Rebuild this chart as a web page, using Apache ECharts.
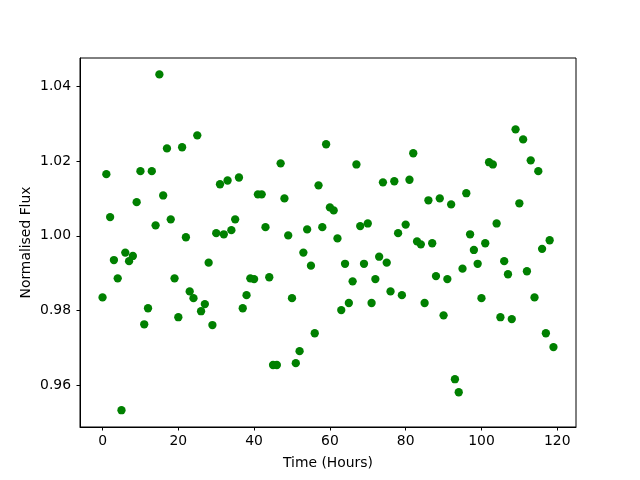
<!DOCTYPE html>
<html><head><meta charset="utf-8">
<script src="https://cdn.jsdelivr.net/npm/echarts@6/dist/echarts.min.js"></script>
<style>html,body{margin:0;padding:0;background:#fff}#c{width:640px;height:480px}</style>
</head><body><div id="c"></div>
<script>
const timeHours = [];
for (let i = 0; i < 120; i++) timeHours.push(i);
const flux = [
0.9835,1.0165,1.005,0.9935,0.9886,0.9533,0.9955,0.9932,0.9946,1.009,
1.0173,0.9763,0.9806,1.0173,1.0028,1.0432,1.0108,1.0234,1.0044,0.9886,
0.9782,1.0237,0.9996,0.9851,0.9833,1.0269,0.9798,0.9817,0.9928,0.9761,
1.0007,1.0138,1.0004,1.0148,1.0015,1.0044,1.0156,0.9806,0.9841,0.9886,
0.9884,1.0111,1.0111,1.0023,0.9889,0.9654,0.9654,1.0194,1.01,1.0001,
0.9833,0.9659,0.9691,0.9955,1.0017,0.992,0.9739,1.0135,1.0023,1.0245,
1.0076,1.0068,0.9993,0.9801,0.9925,0.982,0.9878,1.0191,1.0026,0.9925,
1.0033,0.982,0.9884,0.9944,1.0143,0.9928,0.9851,1.0146,1.0007,0.9841,
1.003,1.015,1.0221,0.9985,0.9977,0.982,1.0095,0.998,0.9892,1.01,
0.9787,0.9884,1.0084,0.9616,0.9581,0.9912,1.0114,1.0004,0.9962,0.9925,
0.9833,0.998,1.0197,1.0191,1.0033,0.9782,0.9932,0.9897,0.9777,1.0285,
1.0087,1.0258,0.9905,1.0202,0.9835,1.0173,0.9965,0.9739,0.9988,0.9702
];
const xTicks = [0,20,40,60,80,100,120];
const yTicks = [0.96,0.98,1.00,1.02,1.04];

const points = timeHours.map((t,i)=>[t, flux[i]]);
const font = 'DejaVu Sans';
const chart = echarts.init(document.getElementById('c'), null, {renderer:'canvas'});
chart.setOption({
  animation:false,
  backgroundColor:'#fff',
  grid:{left:80, top:58, width:496, height:369, show:true, borderColor:'#000', borderWidth:1, backgroundColor:'transparent'},
  xAxis:{type:'value', min:-5.95, max:124.95,
    name:'Time (Hours)', nameLocation:'middle', nameGap:29, nameMoveOverlap:false,
    nameTextStyle:{color:'#000', fontFamily:font, fontSize:13.9},
    axisLine:{show:true, onZero:false, lineStyle:{color:'#000', width:1}},
    axisTick:{show:true, inside:false, length:3.5, lineStyle:{color:'#000'}, customValues:xTicks},
    axisLabel:{color:'#000', fontFamily:font, fontSize:13.9, margin:7, customValues:xTicks, formatter:v=>String(v)},
    splitLine:{show:false}},
  yAxis:{type:'value', min:0.9488, max:1.0476,
    name:'Normalised Flux', nameLocation:'middle', nameGap:47, nameRotate:90, nameMoveOverlap:false,
    nameTextStyle:{color:'#000', fontFamily:font, fontSize:13.9},
    axisLine:{show:true, onZero:false, lineStyle:{color:'#000', width:1}},
    axisTick:{show:true, inside:false, length:3.5, lineStyle:{color:'#000'}, customValues:yTicks},
    axisLabel:{color:'#000', fontFamily:font, fontSize:13.9, margin:9, customValues:yTicks, formatter:v=>v.toFixed(2)},
    splitLine:{show:false}},
  series:[{type:'scatter', data:points, symbol:'circle', symbolSize:8.3,
    itemStyle:{color:'#008000', opacity:1}}]
});
</script></body></html>
